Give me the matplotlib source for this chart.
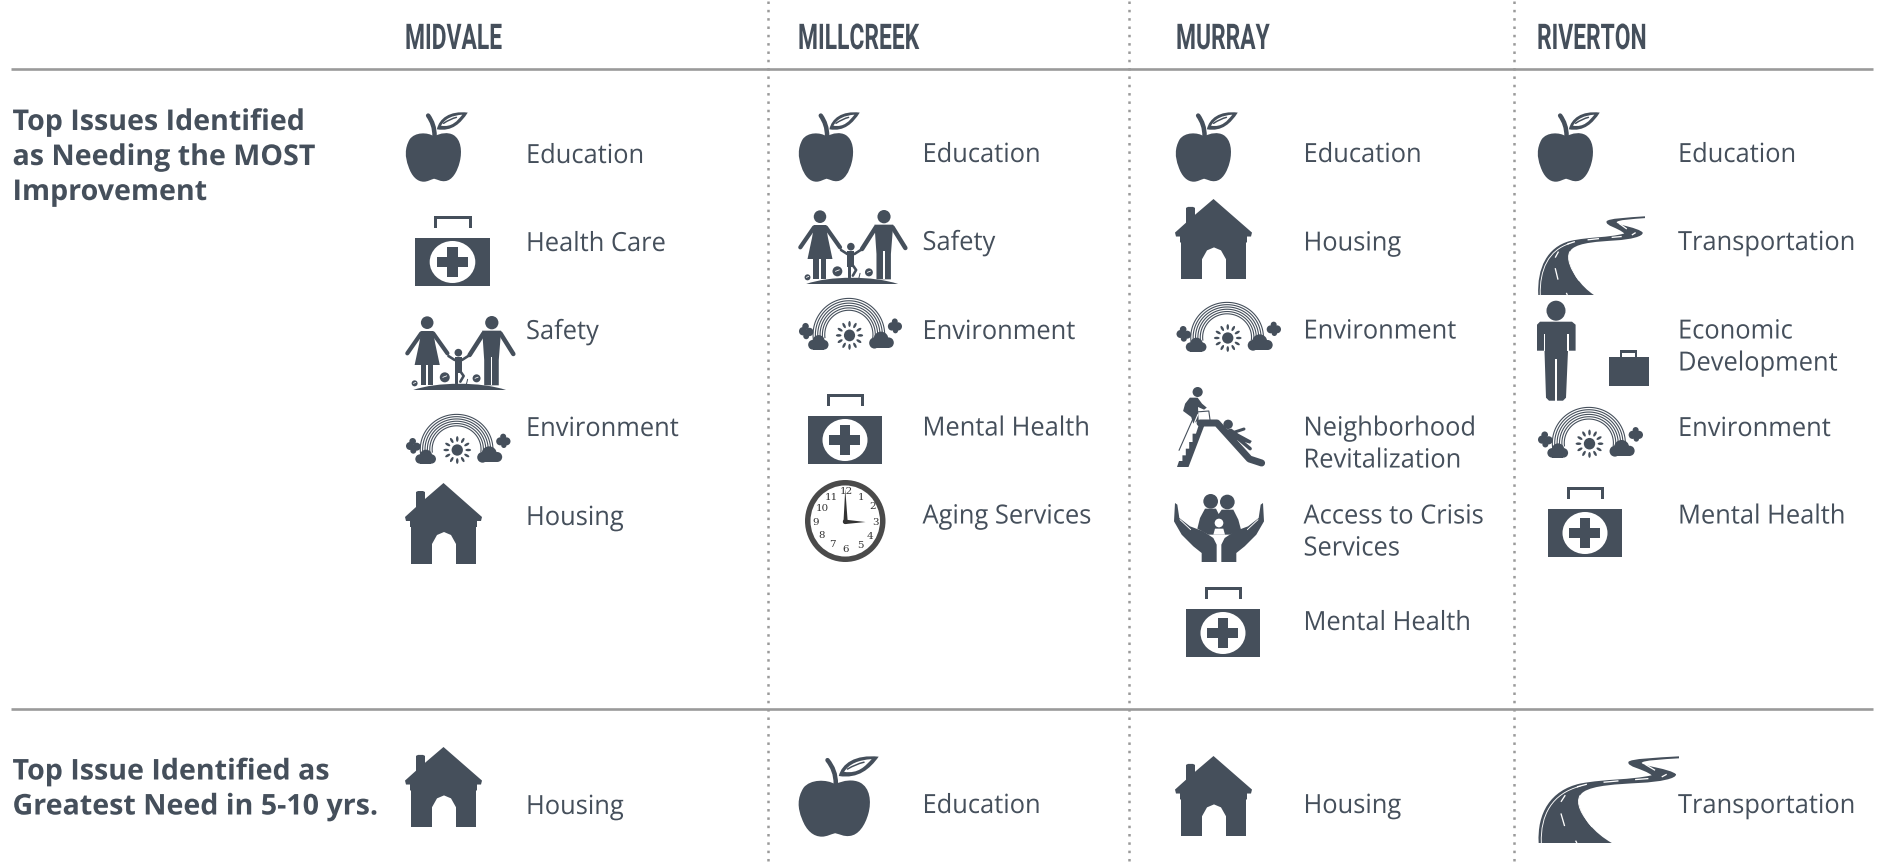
#!/usr/bin/env python3
import numpy as np
import matplotlib
matplotlib.use("Agg")
import matplotlib.pyplot as plt
from matplotlib.patches import Circle, Ellipse, PathPatch, Polygon, Rectangle
from matplotlib.path import Path
from matplotlib.patheffects import AbstractPathEffect
from matplotlib.transforms import Affine2D

# --- Table content ----------------------------------------------------------
cities = ["MIDVALE", "MILLCREEK", "MURRAY", "RIVERTON"]
row_top_title = ["Top Issues Identified", "as Needing the MOST", "Improvement"]
row_bottom_title = ["Top Issue Identified as", "Greatest Need in 5-10 yrs."]

midvale_issues = ["Education", "Health Care", "Safety", "Environment", "Housing"]
millcreek_issues = ["Education", "Safety", "Environment", "Mental Health", "Aging Services"]
murray_issues = ["Education", "Housing", "Environment", "Neighborhood\nRevitalization",
                 "Access to Crisis\nServices", "Mental Health"]
riverton_issues = ["Education", "Transportation", "Economic\nDevelopment", "Environment",
                   "Mental Health"]
future_issues = ["Housing", "Education", "Housing", "Transportation"]

# --- Layout (pixels of the 1879x866 picture) --------------------------------
DARK = "#454f5b"
RULE = "#9a9a9a"
col_text_x = [526, 922.5, 1303.5, 1678]
col_head_x = [405, 798, 1176, 1537]
dotted_x = [768, 1129, 1513.7]
rule_y = [69, 708.5]
midvale_base = [163, 251, 339, 436, 525]
millcreek_base = [162, 250, 339, 435.5, 523.5]
murray_base = [162, 250.5, 338.5, 435.5, 523.5, 630]
riverton_base = [162, 250, 338.5, 436, 523.5]
future_base = [814, 813, 813, 813]
LINE_GAP = 32

midvale_boxes = [(405, 112, 468, 182), (415, 216, 490, 286), (405, 316, 515, 390),
                 (405, 414, 510.5, 465), (405, 483, 482, 564)]
millcreek_boxes = [(798, 112, 860, 182), (798, 210, 907, 284), (798, 298, 902, 351),
                   (808, 394, 882, 464), (805, 480, 885.5, 562)]
murray_boxes = [(1175, 112, 1238, 182), (1175, 199, 1252, 279), (1175.5, 302, 1281, 353),
                (1177, 387, 1265, 467), (1174, 493, 1264, 562), (1186, 587, 1260, 657)]
riverton_boxes = [(1537, 112, 1600, 182), (1537, 216, 1645, 295), (1537, 300.7, 1649, 400.7),
                  (1537, 407, 1643, 459), (1548, 487, 1622, 557)]
future_boxes = [(405, 747, 482, 827), (797.6, 756, 879, 837), (1175, 756, 1252, 836),
                (1537, 756, 1679, 843)]

midvale_icons = ["apple", "kit", "family", "rainbow", "house"]
millcreek_icons = ["apple", "family", "rainbow", "kit", "clock"]
murray_icons = ["apple", "house", "rainbow", "slide", "hands", "kit"]
riverton_icons = ["apple", "road", "man", "rainbow", "kit"]
future_icons = ["house", "apple", "house", "road"]


class Squeeze(AbstractPathEffect):
    # narrows the glyphs around the text origin, no condensed font is installed
    def __init__(self, sx):
        super().__init__()
        self.sx = sx

    def draw_path(self, renderer, gc, tpath, affine, rgbFace=None):
        renderer.draw_path(gc, tpath, Affine2D().scale(self.sx, 1) + affine, rgbFace)


def curve(start, *segs, close=True):
    verts = [start]
    codes = [Path.MOVETO]
    for s in segs:
        if len(s) == 2:
            verts.append(s)
            codes.append(Path.LINETO)
        else:
            verts += [s[:2], s[2:4], s[4:6]]
            codes += [Path.CURVE4] * 3
    if close:
        verts.append(start)
        codes.append(Path.CLOSEPOLY)
    return Path(verts, codes)


class Icon:
    # icon drawn in its own crop units, src box mapped on the dst box
    def __init__(self, ax, src, dst):
        self.ax = ax
        sx = (dst[2] - dst[0]) / (src[2] - src[0])
        sy = (dst[3] - dst[1]) / (src[3] - src[1])
        self.tf = Affine2D().translate(-src[0], -src[1]).scale(sx, sy).translate(dst[0], dst[1]) + ax.transData

    def add(self, patch):
        patch.set_transform(self.tf)
        self.ax.add_patch(patch)

    def fill(self, path, color=DARK):
        self.add(PathPatch(path, facecolor=color, edgecolor="none"))

    def poly(self, pts, color=DARK):
        self.add(Polygon(pts, closed=True, facecolor=color, edgecolor="none"))

    def circ(self, x, y, r, color=DARK):
        self.add(Circle((x, y), r, facecolor=color, edgecolor="none"))

    def ell(self, x, y, w, h, color=DARK, angle=0):
        self.add(Ellipse((x, y), w, h, angle=angle, facecolor=color, edgecolor="none"))

    def rect(self, x0, y0, x1, y1, color=DARK):
        self.add(Rectangle((x0, y0), x1 - x0, y1 - y0, facecolor=color, edgecolor="none"))

    def line(self, pts, lw_px, color=DARK, cap="round"):
        xs, ys = zip(*pts)
        self.ax.plot(xs, ys, color=color, lw=lw_px * 0.72, transform=self.tf,
                     solid_capstyle=cap, solid_joinstyle="round")

    def stroke(self, path, lw_px, color=DARK):
        self.ax.add_patch(PathPatch(path, facecolor="none", edgecolor=color, lw=lw_px * 0.72,
                                    transform=self.tf, capstyle="round"))


def draw_apple(ax, box):
    ic = Icon(ax, (22, 38, 267, 273), box)
    ic.fill(curve((135, 120), (110, 105, 60, 105, 40, 130), (20, 160, 22, 190, 35, 220),
                  (48, 255, 70, 272, 95, 272), (110, 272, 122, 265, 135, 262),
                  (150, 265, 160, 272, 178, 270), (205, 268, 225, 240, 235, 205),
                  (245, 170, 240, 130, 210, 115), (190, 105, 160, 108, 135, 120)))
    ic.stroke(curve((112, 50), (128, 70, 137, 90, 137, 120), close=False), 4.5)
    ic.fill(curve((146, 96), (155, 60, 195, 33, 266, 40), (240, 75, 205, 105, 146, 96)))
    ic.fill(curve((162, 84), (178, 60, 205, 50, 245, 47), (225, 68, 205, 90, 162, 84)), "white")
    ic.stroke(curve((172, 76), (190, 66, 205, 60, 222, 56), close=False), 1.5)


def draw_kit(ax, box):
    ic = Icon(ax, (0, 0, 74, 70), box)
    ic.rect(0, 22, 74, 70)
    ic.rect(19, 0, 56, 3)
    ic.rect(19, 0, 22, 12)
    ic.rect(53, 0, 56, 12)
    ic.ell(37, 46, 45, 42, "white")
    ic.rect(21.5, 41, 52.5, 51)
    ic.rect(32, 31, 42, 61)


def draw_house(ax, box):
    ic = Icon(ax, (0, 0, 77, 81), box)
    ic.poly([(38.5, 0), (77, 34), (76, 38), (72, 38), (72, 44), (71, 44), (71, 81), (51, 81),
             (51, 61), (46, 52), (39, 49), (32, 52), (27, 61), (27, 81), (6, 81), (6, 44),
             (5, 44), (5, 38), (1, 38), (0, 34), (11, 24), (11, 9), (13, 8), (18, 8), (20, 9),
             (20, 16)])


def draw_family(ax, box):
    ic = Icon(ax, (15, 18, 347, 240), box)
    ic.circ(82, 38, 19)
    ic.poly([(64, 63), (100, 63), (106, 100), (120, 165), (44, 165), (58, 100)])
    ic.rect(62, 165, 79, 226)
    ic.rect(84, 165, 101, 226)
    ic.line([(64, 70), (22, 130)], 4.2)
    ic.line([(100, 70), (143, 130)], 4.2)
    ic.circ(277, 38, 20)
    ic.poly([(248, 62), (305, 62), (298, 150), (298, 226), (254, 226), (254, 150)])
    ic.rect(274, 140, 279, 226, "white")
    ic.line([(252, 70), (210, 135)], 4.5)
    ic.line([(303, 70), (342, 132)], 4.5)
    ic.circ(176, 128, 11.5)
    ic.poly([(165, 141), (187, 141), (187, 188), (165, 188)])
    ic.line([(146, 138), (165, 150)], 2.6)
    ic.line([(187, 150), (209, 136)], 2.6)
    ic.line([(170, 186), (170, 218)], 3)
    ic.line([(182, 184), (192, 198), (182, 215)], 2.6)
    ic.fill(curve((40, 240), (110, 215, 245, 215, 320, 240)))
    for fx, fy, fr in [(44, 220, 9), (135, 202, 15), (231, 205, 12)]:
        ic.circ(fx, fy, fr)
        ic.line([(fx - fr * 0.4, fy), (fx + fr * 0.4, fy - fr * 0.3)], 0.8, "white")
    ic.line([(200, 224), (204, 208)], 1)


def draw_rainbow(ax, box):
    ic = Icon(ax, (15, 10, 332, 163), box)
    t = np.radians(np.linspace(172, 368, 80))
    for r in [107, 100, 93, 86, 79, 72]:
        ic.line(list(zip(170 + r * np.cos(t) * 1.02, 116 + r * np.sin(t) * 0.98)), 1.1, cap="butt")
    ic.circ(172, 118, 17)
    for a in np.radians(np.arange(0, 360, 30)):
        ic.ell(172 + 33 * np.cos(a), 118 + 33 * np.sin(a), 17, 7.5, angle=np.degrees(a))
    # left cloud + small blob
    for cx, cy, cr in [(78, 136, 19), (60, 145, 14), (94, 145, 14)]:
        ic.circ(cx, cy, cr)
    ic.rect(60, 145, 94, 159)
    for cx, cy, cr in [(30, 106, 12), (50, 108, 12), (38, 92, 10), (40, 120, 9)]:
        ic.circ(cx, cy, cr)
    # right cloud + small blob
    for cx, cy, cr in [(268, 130, 23), (248, 140, 16), (292, 139, 15)]:
        ic.circ(cx, cy, cr)
    ic.rect(248, 140, 292, 155)
    for cx, cy, cr in [(301, 92, 12), (320, 92, 12), (310, 78, 9), (312, 104, 8)]:
        ic.circ(cx, cy, cr)


def draw_slide(ax, box):
    ic = Icon(ax, (24, 10, 284, 250), box)
    ic.circ(85, 25, 15)
    ic.poly([(62, 42), (85, 42), (98, 60), (112, 72), (104, 78), (86, 70), (88, 110), (72, 120),
             (66, 100), (42, 82), (48, 60)])
    # slide chute
    ic.line([(92, 118), (142, 118), (238, 226), (274, 238)], 7)
    # stairs
    ic.poly([(88, 125), (105, 125), (58, 250), (24, 250), (30, 232), (40, 232), (40, 215), (50, 215),
             (50, 195), (60, 195), (60, 175), (70, 175), (70, 150), (80, 150)])
    ic.line([(30, 200), (80, 85), (118, 82), (122, 112)], 1.1)
    ic.line([(38, 205), (86, 92)], 1.1, "white")
    # child on the chute
    ic.circ(175, 122, 14)
    ic.poly([(168, 138), (185, 135), (205, 150), (245, 172), (240, 180), (205, 170), (188, 168)])
    ic.line([(195, 145), (222, 136)], 3)
    ic.line([(205, 165), (240, 195)], 3.5)


def draw_hands(ax, box):
    ic = Icon(ax, (12, 15, 282, 222), box)
    ic.circ(122, 40, 22)
    ic.circ(172, 42, 22)
    ic.poly([(105, 62), (138, 62), (146, 78), (155, 65), (190, 65), (205, 95), (213, 125), (180, 140),
             (115, 140), (82, 122), (90, 90)])
    ic.circ(147, 105, 13, "white")
    ic.poly([(135, 122), (160, 122), (165, 140), (130, 140)], "white")
    left = [(15, 45), (22, 50), (28, 90), (60, 115), (100, 130), (130, 150), (140, 170), (140, 222),
            (95, 222), (95, 195), (70, 175), (35, 140), (12, 100)]
    ic.poly(left)
    ic.poly([(294 - x, y) for x, y in left])
    ic.line([(30, 95), (62, 125)], 0.9, "white")
    ic.line([(264, 95), (232, 125)], 0.9, "white")


def draw_road(ax, box):
    ic = Icon(ax, (20, 17, 447, 279), box)
    road = curve((25, 279), (20, 190, 60, 120, 150, 100), (230, 85, 300, 90, 365, 75),
                 (340, 55, 290, 50, 295, 35), (300, 25, 380, 22, 447, 18), (447, 24),
                 (400, 27, 335, 30, 335, 38), (340, 48, 420, 55, 438, 72),
                 (440, 85, 390, 95, 330, 98), (260, 102, 190, 105, 160, 125),
                 (130, 145, 150, 185, 175, 220), (195, 245, 220, 265, 245, 279))
    ic.fill(road)
    ic.stroke(curve((33, 279), (30, 195, 65, 130, 150, 108), close=False), 0.9, "white")
    ic.stroke(curve((150, 135), (135, 160, 155, 195, 185, 230), close=False), 0.9, "white")
    for seg in [[(105, 135), (92, 155)], [(92, 190), (103, 228)], [(136, 272), (140, 279)],
                [(140, 110), (170, 102)], [(220, 96), (265, 92)], [(315, 88), (355, 85)],
                [(395, 80), (410, 72)], [(345, 42), (375, 60)]]:
        ic.line(seg, 1.3, "white", cap="butt")


def draw_man(ax, box):
    ic = Icon(ax, (0, 0, 112, 100), box)
    ic.ell(19, 10, 19, 20)
    ic.poly([(3, 21), (35, 21), (38.6, 24), (38.6, 50), (31, 50), (29, 97), (26, 100), (12, 100),
             (9, 97), (7.5, 50), (0, 50), (0, 24)])
    ic.rect(7, 33, 8.2, 50, "white")
    ic.rect(30.4, 33, 31.6, 50, "white")
    ic.rect(18.4, 58, 19.6, 100, "white")
    ic.rect(72, 56.5, 112, 85.5)
    ic.rect(82.7, 49.5, 100, 52)
    ic.rect(82.7, 49.5, 85, 57)
    ic.rect(97.7, 49.5, 100, 57)


def draw_clock(ax, box):
    ic = Icon(ax, (16, 18, 250, 258), box)
    ic.ell(133, 138, 234, 240, "#4a4a4a")
    ic.ell(133, 138, 202, 208, "white")
    ic.poly([(128, 138), (133, 44), (140, 138)], "#333333")
    ic.poly([(133, 134), (192, 141), (133, 147)], "#333333")
    ic.circ(133, 140, 7, "#333333")
    nums = ["12", "1", "2", "3", "4", "5", "6", "7", "8", "9", "10", "11"]
    spots = [(135, 53), (180, 68), (212, 97), (222, 142), (205, 182), (176, 210), (133, 222),
             (97, 208), (65, 180), (48, 142), (65, 102), (92, 68)]
    for s, (nx, ny) in zip(nums, spots):
        ax.text(nx, ny, s, transform=ic.tf, ha="center", va="center", fontsize=7.4,
                family="DejaVu Serif", color="#333333")


ICONS = {"apple": draw_apple, "kit": draw_kit, "house": draw_house, "family": draw_family,
         "rainbow": draw_rainbow, "slide": draw_slide, "hands": draw_hands, "road": draw_road,
         "man": draw_man, "clock": draw_clock}


def draw_label(ax, x, base, label):
    for i, line in enumerate(label.split("\n")):
        ax.text(x, base + i * LINE_GAP, line, fontsize=19, family="Open Sans", color=DARK,
                ha="left", va="baseline", path_effects=[Squeeze(0.965)])


def main():
    fig = plt.figure(figsize=(18.79, 8.66), dpi=100)
    ax = fig.add_axes([0, 0, 1, 1])
    ax.set_xlim(0, 1879)
    ax.set_ylim(866, 0)
    ax.axis("off")

    for y in rule_y:
        ax.plot([11, 1873], [y, y], color=RULE, lw=1.9, solid_capstyle="butt")
    for x in dotted_x:
        ax.plot([x, x], [1, 866], color=RULE, lw=1.8, linestyle=(0, (1, 2.33)))

    for x, name in zip(col_head_x, cities):
        ax.text(x, 49, name, fontsize=25.5, family="Roboto", weight="bold", color=DARK,
                ha="left", va="baseline", path_effects=[Squeeze(0.645)])

    for i, line in enumerate(row_top_title):
        ax.text(12.5, 130 + i * 35, line, fontsize=20.6, family="Open Sans", weight="bold", color=DARK,
                ha="left", va="baseline", path_effects=[Squeeze(1.0)])
    for i, line in enumerate(row_bottom_title):
        ax.text(12.5, 779.5 + i * 35, line, fontsize=20.6, family="Open Sans", weight="bold", color=DARK,
                ha="left", va="baseline", path_effects=[Squeeze(1.0)])

    columns = [(midvale_issues, midvale_icons, midvale_boxes, midvale_base),
               (millcreek_issues, millcreek_icons, millcreek_boxes, millcreek_base),
               (murray_issues, murray_icons, murray_boxes, murray_base),
               (riverton_issues, riverton_icons, riverton_boxes, riverton_base)]
    for c, (issues, icons, boxes, bases) in enumerate(columns):
        for label, icon, box, base in zip(issues, icons, boxes, bases):
            ICONS[icon](ax, box)
            draw_label(ax, col_text_x[c], base, label)
        ICONS[future_icons[c]](ax, future_boxes[c])
        draw_label(ax, col_text_x[c], future_base[c], future_issues[c])

    fig.savefig("out.png", dpi=100, facecolor="white")
    plt.close(fig)


if __name__ == "__main__":
    main()
